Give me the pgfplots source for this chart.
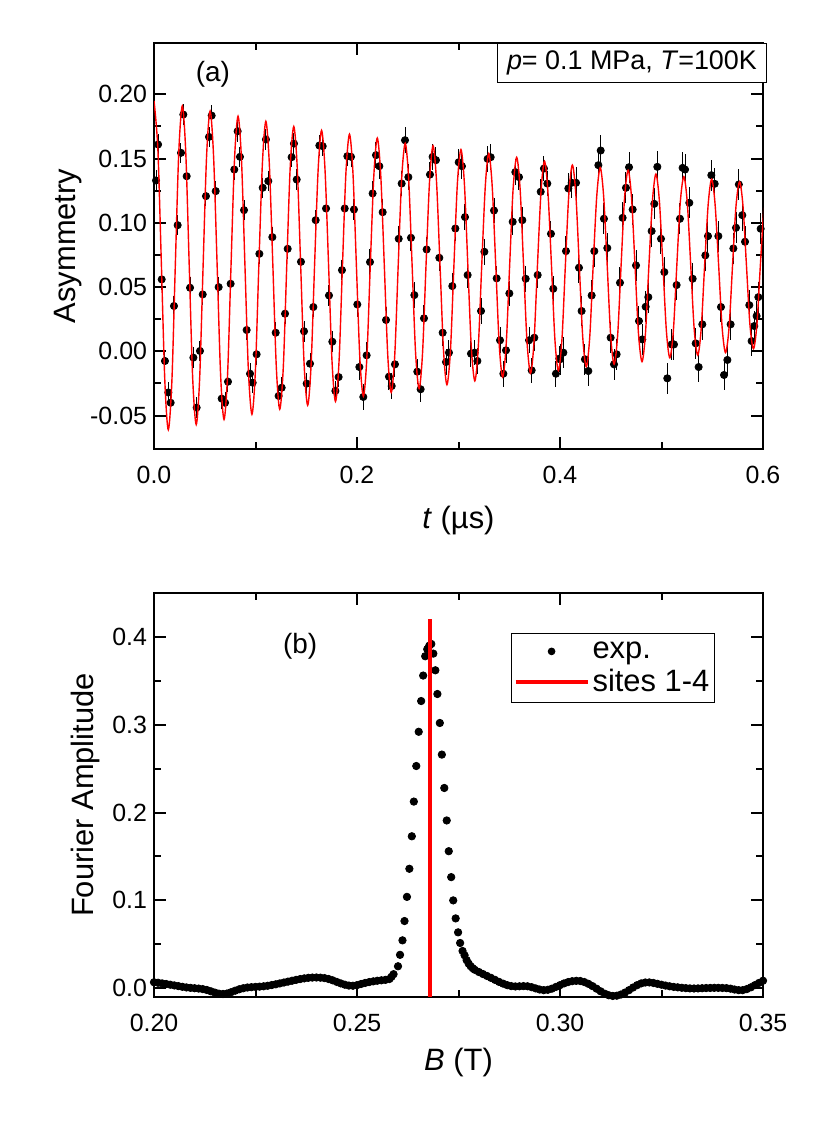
\documentclass[border=0pt]{standalone}
\usepackage{fontspec}
\setmainfont{Liberation Sans}
\usepackage{pgfplots}
\usepackage{pgfplotstable}
\pgfplotsset{compat=1.18}

% muSR time spectrum (t in us, asymmetry)
\pgfplotstableread{
t A
0.0020 0.133
0.0040 0.161
0.0076 0.056
0.0108 -0.0075
0.0141 -0.032
0.0164 -0.040
0.0197 0.0353
0.0233 0.0982
0.0266 0.1545
0.0289 0.1843
0.0322 0.1363
0.0355 0.0495
0.0388 -0.0049
0.0420 -0.0438
0.0453 0.0003
0.0480 0.0443
0.0512 0.1208
0.0542 0.1669
0.0568 0.1835
0.0608 0.1247
0.0637 0.0500
0.0667 -0.0368
0.0700 -0.0400
0.0729 -0.0236
0.0755 0.0526
0.0791 0.1415
0.0824 0.1713
0.0847 0.1514
0.0887 0.1099
0.0913 0.0166
0.0946 -0.0174
0.0972 -0.0244
0.1011 -0.0023
0.1038 0.0759
0.1071 0.1273
0.1103 0.1649
0.1126 0.1325
0.1166 0.0889
0.1199 0.0145
0.1228 -0.0347
0.1258 -0.0283
0.1291 0.0293
0.1317 0.0798
0.1356 0.1511
0.1379 0.1617
0.1406 0.1337
0.1448 0.0697
0.1478 0.0156
0.1504 -0.0251
0.1537 -0.0096
0.1570 0.0345
0.1593 0.1021
0.1629 0.1602
0.1662 0.1597
0.1695 0.1112
0.1724 0.0435
0.1757 0.0075
0.1787 -0.0308
0.1819 -0.0200
0.1852 0.0632
0.1879 0.1112
0.1905 0.1519
0.1941 0.1514
0.1970 0.1104
}\asymA
\pgfplotstableread{
t A
0.2003 0.0365
0.2023 -0.0122
0.2062 -0.0355
0.2095 -0.0031
0.2128 0.0695
0.2154 0.1229
0.2187 0.1527
0.2220 0.1441
0.2253 0.1083
0.2286 0.0244
0.2315 -0.0197
0.2342 -0.0270
0.2374 -0.0101
0.2411 0.0876
0.2440 0.1306
0.2473 0.1643
0.2506 0.1356
0.2532 0.0884
0.2565 0.0438
0.2594 -0.0158
0.2627 -0.0295
0.2660 0.0257
0.2686 0.0793
0.2719 0.1376
0.2745 0.1514
0.2778 0.1488
0.2811 0.0728
0.2844 0.0145
0.2877 -0.0083
0.2906 -0.0010
0.2939 0.0508
0.2969 0.0956
0.3002 0.1472
0.3034 0.1441
0.3064 0.1045
0.3090 0.0594
0.3123 -0.0018
0.3159 -0.0010
0.3186 -0.0075
0.3222 0.0314
0.3255 0.0775
0.3287 0.1498
0.3317 0.1511
0.3350 0.1096
0.3376 0.0568
0.3409 0.0086
0.3442 -0.0174
0.3468 0.0008
0.3501 0.0451
0.3534 0.1008
0.3560 0.1395
0.3596 0.1356
0.3629 0.1021
0.3662 0.0565
0.3695 0.0086
0.3721 -0.0148
0.3747 0.0106
0.3780 0.0594
0.3810 0.1242
0.3842 0.1423
0.3875 0.1306
0.3911 0.0915
0.3934 0.0487
0.3960 -0.0174
0.3993 -0.0057
}\asymB
\pgfplotstableread{
t A
0.4000 -0.0062
0.4033 -0.0010
0.4059 0.0780
0.4082 0.1268
0.4115 0.1312
0.4158 0.1312
0.4187 0.0651
0.4213 0.0314
0.4246 -0.0062
0.4279 -0.0153
0.4312 0.0435
0.4338 0.0780
0.4378 0.1449
0.4401 0.1563
0.4433 0.1032
0.4466 0.0804
0.4499 0.0106
0.4532 -0.0101
0.4558 -0.0023
0.4591 0.0534
0.4617 0.1039
0.4650 0.1273
0.4680 0.1433
0.4716 0.1104
0.4749 0.0669
0.4778 0.0236
0.4811 0.0093
0.4844 0.0347
0.4870 0.0422
0.4903 0.0936
0.4929 0.1148
0.4959 0.1436
0.4995 0.0876
0.5028 0.0617
0.5057 -0.0210
0.5100 0.0054
0.5123 0.0054
0.5149 0.0516
0.5182 0.1032
0.5208 0.1428
0.5232 0.1415
0.5274 0.1156
0.5307 0.0565
0.5337 0.0062
0.5366 -0.0122
0.5402 0.0210
0.5432 0.0747
0.5458 0.0897
0.5491 0.1371
0.5524 0.1304
0.5560 0.0897
0.5586 0.0345
0.5616 -0.0184
0.5649 -0.0067
0.5681 0.0210
0.5708 0.0801
0.5734 0.0962
0.5762 0.1299
0.5796 0.1060
0.5823 0.0853
0.5865 0.0360
0.5888 0.0080
0.5914 0.0197
0.5937 0.0275
0.5954 0.0422
0.5977 0.0954
}\asymC

% fitted curve, read at peaks, troughs and in between
\pgfplotstableread{
t A
0.0000 0.195
0.0038 0.1575
0.0073 0.067
0.0107 -0.0235
0.0141 -0.061
0.0176 -0.0235
0.0210 0.067
0.0244 0.1547
0.0279 0.191
0.0313 0.1547
0.0347 0.067
0.0381 -0.0207
0.0416 -0.057
0.0450 -0.0207
0.0484 0.067
0.0518 0.1518
0.0553 0.187
0.0587 0.1518
0.0622 0.067
0.0656 -0.0178
0.0690 -0.053
0.0725 -0.0178
0.0759 0.067
0.0793 0.1490
0.0828 0.183
0.0862 0.1490
0.0896 0.067
0.0930 -0.0150
0.0965 -0.049
0.0999 -0.0150
0.1033 0.067
0.1068 0.1462
0.1102 0.179
0.1136 0.1462
0.1171 0.067
0.1205 -0.0122
0.1239 -0.045
0.1274 -0.0122
0.1308 0.067
0.1342 0.1434
0.1377 0.175
0.1411 0.1434
0.1445 0.067
0.1479 -0.0101
0.1514 -0.042
0.1548 -0.0101
0.1582 0.067
0.1617 0.1412
0.1651 0.172
0.1685 0.1412
0.1720 0.067
0.1754 -0.0079
0.1788 -0.039
0.1823 -0.0079
0.1857 0.067
0.1891 0.1391
0.1926 0.169
0.1960 0.1391
0.1994 0.067
0.2028 -0.0051
0.2063 -0.035
0.2097 -0.0051
0.2131 0.067
0.2166 0.1370
0.2200 0.166
0.2234 0.1370
0.2269 0.067
0.2303 -0.0030
0.2337 -0.032
0.2372 -0.0030
0.2406 0.067
0.2440 0.1342
0.2475 0.162
0.2509 0.1342
0.2543 0.067
0.2577 -0.0009
0.2612 -0.029
0.2646 -0.0009
0.2680 0.067
0.2715 0.1328
0.2749 0.160
0.2783 0.1328
0.2818 0.067
0.2852 0.0012
0.2886 -0.026
0.2921 0.0012
0.2955 0.067
0.2989 0.1306
0.3024 0.157
0.3058 0.1306
0.3092 0.067
0.3126 0.0034
0.3161 -0.023
0.3195 0.0034
0.3229 0.067
0.3264 0.1285
0.3298 0.154
0.3332 0.1285
0.3367 0.067
0.3401 0.0055
0.3435 -0.020
0.3470 0.0055
0.3504 0.067
0.3538 0.1264
0.3573 0.151
0.3607 0.1264
0.3641 0.067
0.3675 0.0076
0.3710 -0.017
0.3744 0.0076
0.3778 0.067
0.3813 0.1243
0.3847 0.148
0.3881 0.1243
0.3916 0.067
0.3950 0.0090
0.3984 -0.015
0.4019 0.0090
0.4053 0.067
0.4087 0.1221
0.4122 0.145
0.4156 0.1221
0.4190 0.067
0.4224 0.0111
0.4259 -0.012
0.4293 0.0111
0.4327 0.067
0.4362 0.1207
0.4396 0.143
0.4430 0.1207
0.4465 0.067
0.4499 0.0126
0.4533 -0.010
0.4568 0.0126
0.4602 0.067
0.4636 0.1193
0.4671 0.141
0.4705 0.1193
0.4739 0.067
0.4773 0.0140
0.4808 -0.008
0.4842 0.0140
0.4876 0.067
0.4911 0.1172
0.4945 0.138
0.4979 0.1172
0.5014 0.067
0.5048 0.0161
0.5082 -0.005
0.5117 0.0161
0.5151 0.067
0.5185 0.1158
0.5220 0.136
0.5254 0.1158
0.5288 0.067
0.5322 0.0175
0.5357 -0.003
0.5391 0.0175
0.5425 0.067
0.5460 0.1144
0.5494 0.134
0.5528 0.1144
0.5563 0.067
0.5597 0.0189
0.5631 -0.001
0.5666 0.0189
0.5700 0.067
0.5734 0.1130
0.5769 0.132
0.5803 0.1130
0.5837 0.067
0.5871 0.0210
0.5906 0.002
0.5940 0.0210
0.5974 0.067
0.6009 0.1115
0.6043 0.130
}\fit

% Fourier amplitude vs field
\pgfplotstableread{
B F
0.200 0.0068
0.201 0.0062
0.202 0.0055
0.203 0.0048
0.204 0.0040
0.205 0.0032
0.206 0.0024
0.207 0.0016
0.208 0.0009
0.209 0.0004
0.210 0.0000
0.211 -0.0004
0.212 -0.0010
0.213 -0.0020
0.214 -0.0035
0.215 -0.0050
0.216 -0.0062
0.217 -0.0066
0.218 -0.0060
0.219 -0.0045
0.220 -0.0028
0.221 -0.0012
0.222 0.0000
0.223 0.0008
0.224 0.0012
0.225 0.0015
0.226 0.0018
0.227 0.0022
0.228 0.0028
0.229 0.0036
0.230 0.0045
0.231 0.0055
0.232 0.0065
0.233 0.0075
0.234 0.0085
0.235 0.0095
0.236 0.0104
0.237 0.0112
0.238 0.0118
0.239 0.0121
0.240 0.0122
0.241 0.0120
0.242 0.0115
0.243 0.0105
0.244 0.0090
0.245 0.0072
0.246 0.0055
0.247 0.0040
0.248 0.0030
0.249 0.0028
0.250 0.0035
0.251 0.0048
0.252 0.0060
0.253 0.0070
0.254 0.0078
0.255 0.0085
0.256 0.0090
0.257 0.0095
0.258 0.0105
0.2585 0.0130
0.2590 0.0160
0.2601 0.025
0.2606 0.038
0.2612 0.0545
0.2617 0.0765
0.2623 0.104
0.2629 0.136
0.2635 0.173
0.2640 0.2125
0.2646 0.253
0.2652 0.292
0.2658 0.327
0.2663 0.356
0.2668 0.378
0.2673 0.386
0.2678 0.390
0.2683 0.392
0.2688 0.381
0.2693 0.362
0.2698 0.335
0.2704 0.302
0.2709 0.266
0.2715 0.228
0.2721 0.191
0.2726 0.156
0.2732 0.1265
0.2737 0.100
0.2743 0.0795
0.2749 0.0636
0.2754 0.0515
0.2760 0.0424
0.2765 0.0375
0.2770 0.0320
0.2775 0.0280
0.2780 0.0250
0.2785 0.0228
0.279 0.0210
0.280 0.0185
0.281 0.0162
0.282 0.0140
0.283 0.0118
0.284 0.0095
0.285 0.0072
0.286 0.0052
0.287 0.0035
0.288 0.0024
0.289 0.0020
0.290 0.0022
0.291 0.0024
0.292 0.0022
0.293 0.0012
0.294 -0.0002
0.295 -0.0015
0.296 -0.0022
0.297 -0.0018
0.298 -0.0005
0.299 0.0015
0.300 0.0035
0.301 0.0055
0.302 0.0070
0.303 0.0080
0.304 0.0084
0.305 0.0082
0.306 0.0070
0.307 0.0050
0.308 0.0024
0.309 -0.0005
0.310 -0.0035
0.311 -0.0062
0.312 -0.0080
0.313 -0.0088
0.314 -0.0085
0.315 -0.0072
0.316 -0.0050
0.317 -0.0022
0.318 0.0008
0.319 0.0035
0.320 0.0055
0.321 0.0065
0.322 0.0066
0.323 0.0060
0.324 0.0050
0.325 0.0040
0.326 0.0030
0.327 0.0022
0.328 0.0015
0.329 0.0010
0.330 0.0005
0.331 0.0001
0.332 -0.0002
0.333 -0.0003
0.334 -0.0002
0.335 0.0000
0.336 0.0002
0.337 0.0003
0.338 0.0004
0.339 0.0004
0.340 0.0003
0.341 0.0001
0.342 -0.0005
0.343 -0.0015
0.344 -0.0022
0.345 -0.0022
0.346 -0.0010
0.347 0.0010
0.348 0.0035
0.349 0.0060
0.350 0.0085
}\fourier

\pgfplotsset{
  panel/.style={
    scale only axis,
    width=304.5bp,
    axis line style={line width=1bp},
    tick style={line width=1bp, black},
    major tick length=6bp,
    minor tick length=3.5bp,
    minor tick num=1,
    tick label style={font=\fontsize{12.5}{14}\selectfont},
    label style={font=\fontsize{15.5}{18}\selectfont},
    /pgf/number format/assume math mode=true,
    xticklabel style={yshift=-5bp},
    clip mode=individual,
  },
  errpts/.style={
    only marks, mark=*, mark size=1.8bp, black,
    error bars/.cd, y dir=both, y fixed=#1,
    error bar style={line width=0.5bp, black}, error mark=none,
  },
}

\begin{document}
\begin{tikzpicture}
\path[use as bounding box] (0,0) rectangle (415bp,564bp);

% ---------- (a) time spectrum
\begin{axis}[panel,
  at={(77bp,339.5bp)}, anchor=south west, height=203bp,
  xmin=0, xmax=0.6, ymin=-0.076, ymax=0.240,
  xtick={0,0.2,0.4,0.6},
  ytick={-0.05,0,0.05,0.1,0.15,0.2},
  xticklabel style={/pgf/number format/.cd, fixed, fixed zerofill, precision=1},
  yticklabel style={/pgf/number format/.cd, fixed, fixed zerofill, precision=2},
  xlabel={\textit{t} (µs)},
  ylabel={Asymmetry},
  xlabel style={at={(axis description cs:0.5,-0.177)}, anchor=center},
  ylabel style={at={(axis description cs:-0.141,0.5)}, anchor=center},
]
\addplot[errpts=0.008] table[x=t, y=A] {\asymA};
\addplot[errpts=0.010] table[x=t, y=A] {\asymB};
\addplot[errpts=0.012] table[x=t, y=A] {\asymC};
\addplot[red, line width=0.7bp, smooth] table[x=t, y=A] {\fit};
\node[font=\fontsize{14}{16}\selectfont] at (axis cs:0.058,0.2154) {(a)};
\node[draw, line width=0.6bp, fill=white, anchor=north east,
      minimum width=134.5bp, minimum height=19.5bp, inner sep=2bp,
      font=\fontsize{13.5}{16}\selectfont]
  at (rel axis cs:1.0066,1) {\textit{p}= 0.1 MPa, \textit{T}=100K};
\end{axis}

% ---------- (b) Fourier transform
\begin{axis}[panel,
  at={(77bp,65.5bp)}, anchor=south west, height=202bp,
  xmin=0.2, xmax=0.35, ymin=-0.01, ymax=0.45,
  xtick={0.2,0.25,0.3,0.35},
  ytick={0,0.1,0.2,0.3,0.4},
  xticklabel style={/pgf/number format/.cd, fixed, fixed zerofill, precision=2},
  yticklabel style={/pgf/number format/.cd, fixed, fixed zerofill, precision=1},
  xlabel={\textit{B} (T)},
  ylabel={Fourier Amplitude},
  xlabel style={at={(axis description cs:0.5,-0.162)}, anchor=center},
  ylabel style={at={(axis description cs:-0.113,0.5)}, anchor=center},
  legend style={at={(0.921,0.901)}, anchor=north east, draw=black,
    line width=0.6bp, font=\fontsize{15.5}{18}\selectfont,
    inner xsep=1bp, inner ysep=2bp,
    nodes={inner xsep=1.5bp, inner ysep=2bp}},
  legend cell align=left,
]
\addplot[only marks, mark=*, mark size=1.85bp, black,
  legend image code/.code={\fill[black] (18bp,0bp) circle (1.6bp);}]
  table[x=B, y=F] {\fourier};
\addlegendentry{exp.}
\addplot[red, line width=2bp,
  legend image code/.code={\draw[red, line width=2bp] (0bp,0bp) -- (36bp,0bp);}]
  coordinates {(0.268,-0.01) (0.268,0.42)};
\addlegendentry{sites 1-4}
\node[font=\fontsize{14}{16}\selectfont] at (axis cs:0.236,0.389) {(b)};
\end{axis}
\end{tikzpicture}
\end{document}
